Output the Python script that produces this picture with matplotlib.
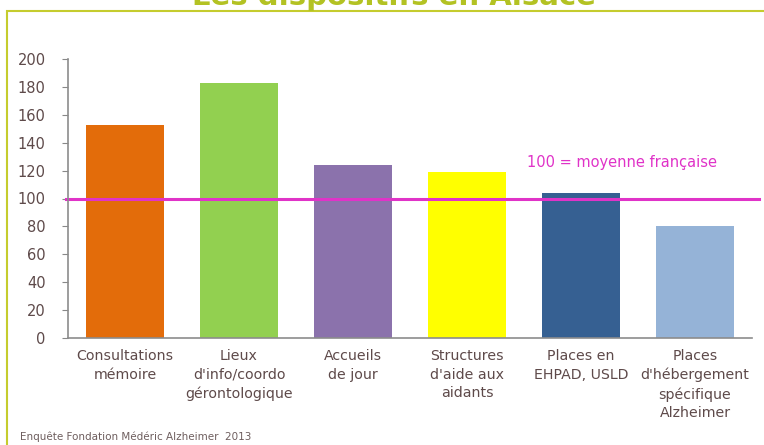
import matplotlib
matplotlib.use("Agg")
import matplotlib.pyplot as plt
from matplotlib.patches import Rectangle
from matplotlib.lines import Line2D

categories = ["Consultations\nmémoire", "Lieux\nd'info/coordo\ngérontologique",
              "Accueils\nde jour", "Structures\nd'aide aux\naidants",
              "Places en\nEHPAD, USLD", "Places\nd'hébergement\nspécifique\nAlzheimer"]
values = [153, 183, 124, 119, 104, 80]
colors = ["#E36C0A", "#92D050", "#8B72AC", "#FFFF00", "#366092", "#95B3D7"]
yticks = [0, 20, 40, 60, 80, 100, 120, 140, 160, 180, 200]
reference = 100
title = "Les dispositifs en Alsace"
ref_label = "100 = moyenne française"
source = "Enquête Fondation Médéric Alzheimer  2013"

W, H = 764, 445
fig = plt.figure(figsize=(W / 100, H / 100), dpi=100)
txt = "#5E4A4A"

# frame box
fig.patches.append(Rectangle((7 / W, -0.1), 1.2, 1 - 11 / H + 0.1, transform=fig.transFigure,
                             fill=False, edgecolor="#C5CC2E", linewidth=1.5))
fig.text(0.515, 1 - 5 / H, title, ha="center", va="baseline", fontsize=21,
         fontweight="bold", color="#B3C223")

ax = fig.add_axes([68 / W, 1 - 338 / H, (752 - 68) / W, (338 - 59) / H])
x = list(range(len(categories)))
ax.bar(x, values, width=0.68, color=colors)
ax.set_xlim(-0.5, len(categories) - 0.5)
ax.set_ylim(0, 200)
ax.set_yticks(yticks)
ax.set_xticks(x)
ax.set_xticklabels(categories, fontsize=10.2, color=txt, linespacing=1.42)
ax.tick_params(axis="x", length=0, pad=8)
ax.tick_params(axis="y", length=4, color="#888888", labelsize=10.5, labelcolor=txt, pad=12)
for s in ["top", "right"]:
    ax.spines[s].set_visible(False)
for s in ["left", "bottom"]:
    ax.spines[s].set_color("#8C8C8C")
    ax.spines[s].set_linewidth(1.2)

ax.add_line(Line2D([-0.003, 1.010], [reference, reference], transform=ax.get_yaxis_transform(),
                   color="#E033C8", linewidth=2.2, clip_on=False))
ax.text(4.36, 125.5, ref_label, ha="center", va="center", fontsize=10.5, color="#E033C8")

fig.text(20 / W, 1 - 437 / H, source, ha="left", va="center", fontsize=7.5, color="#6E5E5E")

fig.savefig("out.png", dpi=100)
